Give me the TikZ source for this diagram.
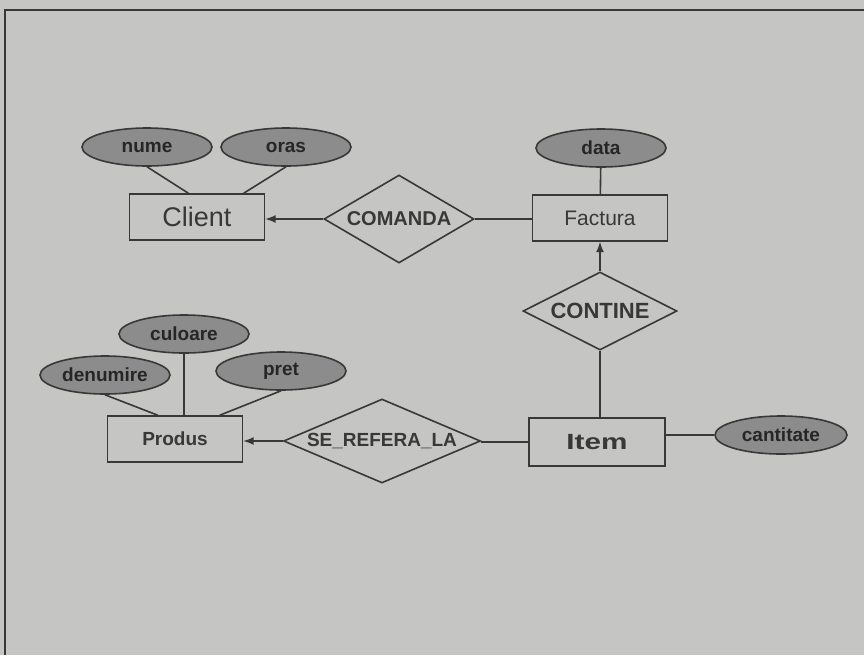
\documentclass[tikz,border=0pt]{standalone}
\usepackage{fontspec}
\setmainfont{Liberation Sans}
\usetikzlibrary{shapes.geometric}
\definecolor{paper}{HTML}{C5C5C3}
\definecolor{ink}{HTML}{383838}
\definecolor{dots}{HTML}{8C8C8C}

\begin{document}
\begin{tikzpicture}[x=0.5pt,y=-0.5pt,
    entity/.style={draw=ink,line width=0.8pt,fill=paper,minimum width=67.5pt,minimum height=23pt,inner sep=0pt,text=ink},
    attr/.style={ellipse,draw=ink,line width=0.8pt,fill=dots,minimum width=65pt,minimum height=19pt,inner sep=0pt,text=black!85,font=\bfseries\fontsize{9.5}{10}\selectfont},
    rel/.style={diamond,draw=ink,line width=0.8pt,fill=paper,inner sep=0pt,text=ink,font=\bfseries\fontsize{10}{12}\selectfont},
    link/.style={draw=ink,line width=0.8pt}]
            % Paper and frame
            \fill[paper] (0,0) rectangle (864,655);
            \useasboundingbox (0,0) rectangle (864,655);
            \draw[ink,line width=1.1pt] (5,655) -- (5,10) -- (864,10);
            % Entities
            \node[entity,font=\fontsize{13.5}{15}\selectfont] (client) at (197,217) {Client};
            \node[entity,font=\fontsize{10.5}{12}\selectfont] (factura) at (600,218) {Factura};
            \node[entity,font=\bfseries\fontsize{9.5}{12}\selectfont] (produs) at (175,439) {Produs};
            \node[entity,minimum width=68pt,minimum height=24pt,font=\bfseries\fontsize{11}{12}\selectfont] (item) at (597,442) {\scalebox{1.35}[1]{Item}};
            % Relationships
            \node[rel,aspect=1.7,minimum width=75pt,minimum height=44pt] (comanda) at (399,219) {COMANDA};
            \node[rel,aspect=2,minimum width=77pt,minimum height=39pt,font=\bfseries\fontsize{11}{12}\selectfont] (contine) at (600,311) {CONTINE};
            \node[rel,aspect=2.35,minimum width=98.5pt,minimum height=42pt,font=\bfseries\fontsize{9.5}{12}\selectfont] (refera) at (382,441) {SE\_REFERA\_LA};
            % Attributes
            \node[attr] (nume) at (147,147) {nume};
            \node[attr] (oras) at (286,147) {oras};
            \node[attr] (data) at (601,148) {data};
            \node[attr] (culoare) at (184,334) {culoare};
            \node[attr] (denumire) at (105,375) {denumire};
            \node[attr] (pret) at (281,371) {pret};
            \node[attr,minimum width=66pt] (cantitate) at (781,435) {cantitate};
            % Attribute links
            \draw[link] (nume.south) -- (client.110);
            \draw[link] (oras.south) -- (client.27);
            \draw[link] (data) -- (factura);
            \draw[link] (denumire.south) -- (produs.126);
            \draw[link] (culoare.south) -- (culoare.south |- produs.north);
            \draw[link] (pret.south) -- (produs.28);
            \draw[link] (cantitate.west) -- (cantitate.west -| item.east);
            % Relationship links
            \draw[link,-latex] (comanda.west) -- (comanda.west -| client.east);
            \draw[link] (comanda.east) -- (comanda.east -| factura.west);
            \draw[link,-latex] (contine) -- (factura); % up to Factura
            \draw[link] (contine.south) -- (contine.south |- item.north);
            \draw[link,-latex] (refera.west) -- (refera.west -| produs.east);
            \draw[link] (item.west) -- (item.west -| refera.east);
\end{tikzpicture}
\end{document}
